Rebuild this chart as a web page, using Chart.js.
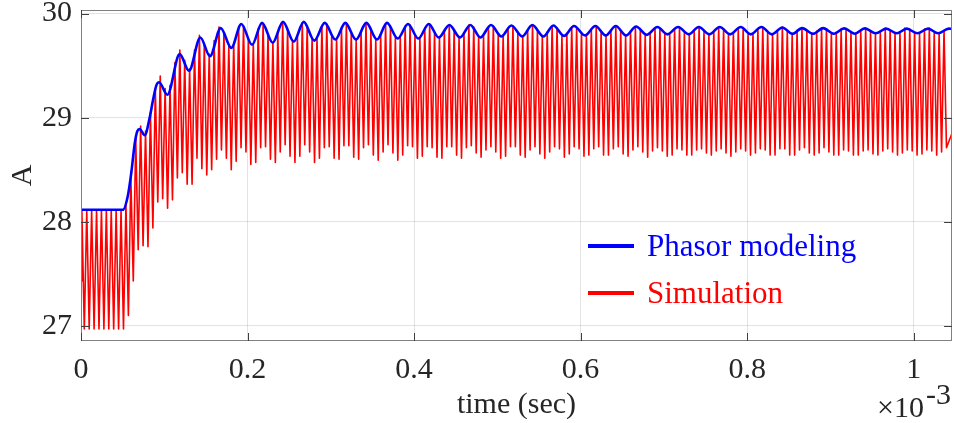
<!DOCTYPE html>
<html>
<head>
<meta charset="utf-8">
<script src="https://cdn.jsdelivr.net/npm/chart.js@4"></script>
<style>
  html, body { margin: 0; padding: 0; background: #fff; }
  #wrap { width: 954px; height: 423px; }
</style>
</head>
<body>
<div id="wrap"><canvas id="myChart"></canvas></div>
<script>
// time axis is in ms (x 10^-3 sec)
const xMin = 0;
const xMax = 1.046;
const xTicks = [0, 0.2, 0.4, 0.6, 0.8, 1];
const yMin = 26.854;
const yMax = 30.034;
const yTicks = [27, 28, 29, 30];

// Phasor modeling (blue): envelope read at its turning points
const phasorTime = [0, 0.0504, 0.0565, 0.0604, 0.0645, 0.0676, 0.0705, 0.0765, 0.0825, 0.0865, 0.0905,
  0.0937, 0.1037, 0.1185, 0.1297, 0.1433, 0.1549, 0.1678,
  0.1805, 0.1925, 0.2054, 0.2174, 0.2302, 0.2426, 0.2555, 0.2675, 0.2802, 0.2927,
  0.3054, 0.3174, 0.3303, 0.3427, 0.3555, 0.3675, 0.3804, 0.3927, 0.4051, 0.4176,
  0.4296, 0.4424, 0.4552, 0.4676, 0.4796, 0.4924, 0.5048, 0.5168, 0.5300, 0.5420,
  0.5553, 0.5673, 0.5801, 0.5921, 0.6053, 0.6177, 0.6302, 0.6422, 0.6546, 0.6666,
  0.6794, 0.6922, 0.7042, 0.7170, 0.7299, 0.7419, 0.7546, 0.7671, 0.7795, 0.7923,
  0.8043, 0.8171, 0.8296, 0.8423, 0.8543, 0.8660, 0.8792, 0.8912, 0.9044, 0.9164,
  0.9293, 0.9413, 0.9545, 0.9669, 0.9797, 0.9917, 1.0044, 1.0173, 1.0293, 1.0422, 1.0458];
const phasorCurrent = [28.115, 28.115, 28.26, 28.47, 28.75, 28.87, 28.89, 28.83, 29.00, 29.17, 29.31,
  29.34, 29.22, 29.61, 29.45, 29.77, 29.59, 29.86,
  29.67, 29.90, 29.70, 29.91, 29.72, 29.92, 29.73, 29.92, 29.74, 29.91,
  29.75, 29.91, 29.75, 29.91, 29.75, 29.91, 29.76, 29.90, 29.76, 29.90,
  29.77, 29.89, 29.77, 29.89, 29.77, 29.89, 29.78, 29.885, 29.78, 29.89,
  29.78, 29.885, 29.785, 29.88, 29.79, 29.88, 29.79, 29.88, 29.79, 29.875,
  29.795, 29.87, 29.80, 29.87, 29.80, 29.87, 29.80, 29.87, 29.80, 29.87,
  29.80, 29.87, 29.80, 29.866, 29.805, 29.86, 29.806, 29.86, 29.806, 29.857,
  29.806, 29.857, 29.81, 29.855, 29.81, 29.855, 29.81, 29.855, 29.81, 29.855, 29.853];

// Simulation (red): switching ripple, one peak and one trough per cycle
const simStart = 27.43;
const simEnd = 28.85;
const simFirstPeak = 0.00102;   // ms
const simPeriod = 0.005883;     // ms
const simPeaks = [
  28.11, 28.11, 28.11, 28.11, 28.11, 28.11, 28.11, 28.11, 28.11, 28.17,
  28.43, 28.80, 28.92, 28.87, 29.05, 29.28, 29.40, 29.28, 29.31, 29.53,
  29.65, 29.55, 29.47, 29.65, 29.79, 29.71, 29.61, 29.74, 29.87, 29.82,
  29.69, 29.71, 29.86, 29.88, 29.75, 29.71, 29.85, 29.90, 29.79, 29.72,
  29.82, 29.92, 29.84, 29.73, 29.79, 29.91, 29.87, 29.76, 29.77, 29.88,
  29.90, 29.79, 29.76, 29.86, 29.91, 29.81, 29.75, 29.83, 29.91, 29.84,
  29.75, 29.80, 29.90, 29.87, 29.77, 29.78, 29.88, 29.89, 29.79, 29.77,
  29.86, 29.90, 29.82, 29.77, 29.84, 29.89, 29.84, 29.77, 29.81, 29.89,
  29.87, 29.78, 29.79, 29.87, 29.88, 29.80, 29.79, 29.86, 29.88, 29.81,
  29.78, 29.84, 29.89, 29.84, 29.78, 29.82, 29.88, 29.86, 29.79, 29.81,
  29.87, 29.86, 29.80, 29.80, 29.85, 29.88, 29.83, 29.79, 29.84, 29.88,
  29.84, 29.79, 29.83, 29.87, 29.84, 29.80, 29.81, 29.86, 29.86, 29.81,
  29.81, 29.85, 29.87, 29.82, 29.80, 29.84, 29.87, 29.83, 29.80, 29.83,
  29.87, 29.85, 29.80, 29.82, 29.86, 29.86, 29.81, 29.81, 29.85, 29.87,
  29.82, 29.80, 29.84, 29.87, 29.83, 29.80, 29.84, 29.86, 29.84, 29.81,
  29.83, 29.86, 29.85, 29.81, 29.82, 29.85, 29.85, 29.82, 29.81, 29.84,
  29.86, 29.83, 29.81, 29.83, 29.86, 29.84, 29.81, 29.82, 29.86, 29.85,
  29.81, 29.81, 29.85, 29.86, 29.82, 29.81, 29.84];
const simTroughs = [
  26.97, 26.97, 26.97, 26.97, 26.97, 26.97, 26.97, 26.97, 26.97, 27.10,
  27.43, 27.73, 27.77, 27.76, 27.94, 28.19, 28.22, 28.13, 28.21, 28.42,
  28.47, 28.36, 28.36, 28.61, 28.51, 28.45, 28.50, 28.60, 28.69, 28.61,
  28.50, 28.58, 28.71, 28.67, 28.55, 28.57, 28.71, 28.72, 28.60, 28.57,
  28.67, 28.74, 28.63, 28.57, 28.63, 28.74, 28.67, 28.57, 28.61, 28.71,
  28.72, 28.61, 28.60, 28.73, 28.73, 28.62, 28.60, 28.71, 28.74, 28.64,
  28.59, 28.67, 28.74, 28.66, 28.59, 28.64, 28.73, 28.72, 28.61, 28.63,
  28.72, 28.71, 28.62, 28.61, 28.72, 28.72, 28.64, 28.61, 28.71, 28.73,
  28.66, 28.62, 28.69, 28.72, 28.67, 28.61, 28.63, 28.72, 28.72, 28.64,
  28.62, 28.69, 28.72, 28.65, 28.61, 28.67, 28.72, 28.70, 28.62, 28.65,
  28.72, 28.70, 28.63, 28.64, 28.70, 28.72, 28.64, 28.64, 28.70, 28.72,
  28.65, 28.63, 28.69, 28.72, 28.67, 28.62, 28.68, 28.71, 28.68, 28.63,
  28.64, 28.70, 28.69, 28.64, 28.64, 28.69, 28.70, 28.66, 28.64, 28.68,
  28.70, 28.66, 28.63, 28.67, 28.70, 28.68, 28.64, 28.66, 28.70, 28.69,
  28.64, 28.64, 28.70, 28.70, 28.64, 28.64, 28.69, 28.71, 28.66, 28.64,
  28.66, 28.71, 28.67, 28.64, 28.64, 28.69, 28.68, 28.64, 28.64, 28.68,
  28.69, 28.65, 28.64, 28.68, 28.70, 28.67, 28.64, 28.66, 28.69, 28.68,
  28.64, 28.65, 28.69, 28.68, 28.64, 28.67, 28.71];

const phasorData = phasorTime.map((t, i) => ({ x: t, y: phasorCurrent[i] }));

const simData = [{ x: xMin, y: simStart }];
for (let i = 0; i < simPeaks.length; i++) {
  simData.push({ x: simFirstPeak + i * simPeriod, y: simPeaks[i] });
  simData.push({ x: simFirstPeak + (i + 0.5) * simPeriod, y: simTroughs[i] });
}
simData.push({ x: xMax, y: simEnd });

const serif = "'Liberation Serif', 'Times New Roman', serif";
const axisGray = "#808080";
const textColor = "#262626";

// MATLAB-style box, inward ticks, legend and the x10^-3 exponent
const matlabDecor = {
  id: "matlabDecor",
  afterDraw(chart) {
    const { ctx, chartArea: a, scales } = chart;
    ctx.save();
    ctx.strokeStyle = axisGray;
    ctx.lineWidth = 1;
    ctx.strokeRect(a.left + 0.5, a.top + 0.5, a.right - a.left - 1, a.bottom - a.top - 1);

    const tl = 8;
    ctx.strokeStyle = "#404040";
    ctx.beginPath();
    xTicks.forEach((v) => {
      const px = Math.round(scales.x.getPixelForValue(v)) + 0.5;
      ctx.moveTo(px, a.bottom); ctx.lineTo(px, a.bottom - tl);
      ctx.moveTo(px, a.top); ctx.lineTo(px, a.top + tl);
    });
    yTicks.forEach((v) => {
      const py = Math.round(scales.y.getPixelForValue(v)) + 0.5;
      ctx.moveTo(a.left, py); ctx.lineTo(a.left + tl, py);
      ctx.moveTo(a.right, py); ctx.lineTo(a.right - tl, py);
    });
    ctx.stroke();

    // legend
    const items = chart.data.datasets;
    const rows = [246, 293];
    ctx.lineWidth = 4;
    ctx.font = "31px " + serif;
    ctx.textBaseline = "alphabetic";
    ctx.textAlign = "left";
    items.forEach((ds, i) => {
      ctx.strokeStyle = ds.borderColor;
      ctx.beginPath();
      ctx.moveTo(588, rows[i]);
      ctx.lineTo(634, rows[i]);
      ctx.stroke();
      ctx.fillStyle = ds.borderColor;
      ctx.fillText(ds.label, 647, rows[i] + 10);
    });

    // exponent of the time axis
    ctx.fillStyle = textColor;
    ctx.font = "30px " + serif;
    ctx.fillText("\u00d710", 877, 417);
    ctx.fillText("-3", 926, 404);
    ctx.restore();
  },
};

const ctx = document.getElementById("myChart").getContext("2d");

const config = {
  type: "line",
  data: {
    datasets: [
      {
        label: "Phasor modeling",
        data: phasorData,
        borderColor: "#0000ff",
        borderWidth: 2.6,
        pointRadius: 0,
        cubicInterpolationMode: "monotone",
        fill: false,
      },
      {
        label: "Simulation",
        data: simData,
        borderColor: "#ff0000",
        borderWidth: 1.6,
        borderJoinStyle: "round",
        pointRadius: 0,
        tension: 0,
        fill: false,
      },
    ],
  },
  options: {
    responsive: true,
    maintainAspectRatio: false,
    animation: false,
    layout: { padding: { top: 10, right: 2, left: 0, bottom: 0 } },
    scales: {
      x: {
        type: "linear",
        min: xMin,
        max: xMax,
        afterBuildTicks: (s) => { s.ticks = xTicks.map((v) => ({ value: v })); },
        afterFit: (s) => { s.height = 82; s.paddingLeft = 0; s.paddingRight = 0; },
        ticks: {
          padding: 11,
          color: textColor,
          font: { family: serif, size: 30 },
          callback: (v) => String(v),
          maxRotation: 0,
        },
        grid: { color: "rgba(38,38,38,0.13)", drawTicks: false },
        border: { display: false },
        title: {
          display: true,
          text: "time (sec)",
          color: textColor,
          font: { family: serif, size: 30 },
          padding: { top: 0, bottom: 0 },
        },
      },
      y: {
        min: yMin,
        max: yMax,
        afterBuildTicks: (s) => { s.ticks = yTicks.map((v) => ({ value: v })); },
        afterFit: (s) => { s.width = 81; s.paddingTop = 0; s.paddingBottom = 0; },
        ticks: {
          padding: 9,
          color: textColor,
          font: { family: serif, size: 30 },
        },
        grid: { color: "rgba(38,38,38,0.13)", drawTicks: false },
        border: { display: false },
        title: {
          display: true,
          text: "A",
          color: textColor,
          font: { family: serif, size: 30 },
          padding: { top: 5, bottom: 0 },
        },
      },
    },
    plugins: {
      legend: { display: false },
      tooltip: { enabled: false },
    },
  },
  plugins: [matlabDecor],
};

const currentChart = new Chart(ctx, config);
</script>
</body>
</html>
